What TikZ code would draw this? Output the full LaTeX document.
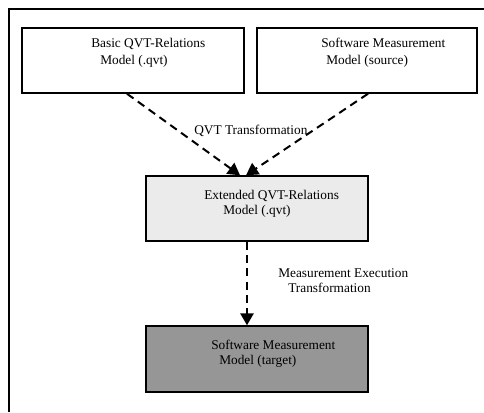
\documentclass[tikz,border=0pt]{standalone}
\usepackage{fontspec}
\setmainfont{Liberation Serif}
\usetikzlibrary{arrows.meta}
\definecolor{lightbox}{HTML}{EBEBEB}
\definecolor{darkbox}{HTML}{969696}
\begin{document}
\begin{tikzpicture}[x=0.75pt,y=-0.75pt,
  boxst/.style={draw=black,line width=1.125pt,rectangle,inner sep=0pt,minimum height=48.75pt},
  lbl/.style={font=\fontsize{10}{12}\selectfont,inner sep=0pt,anchor=base west},
  dasharrow/.style={dashed,dash pattern=on 6pt off 4pt,line width=1.5pt,-{Triangle[length=9pt,width=10pt]}}]
\useasboundingbox (0,0) rectangle (484,412);
\draw[line width=1.6pt] (9,412) -- (9,9) -- (484,9);
% boxes
\node[boxst,minimum width=166.5pt] (b1) at (133,60.5) {};
\node[boxst,minimum width=165pt] (b2) at (367,60.5) {};
\node[boxst,fill=lightbox,minimum width=166.5pt] (b3) at (257,208.5) {};
\node[boxst,fill=darkbox,minimum width=166.5pt,minimum height=49.5pt] (b4) at (257,359) {};
\coordinate (b1s) at ([xshift=-4.5pt]b1.south);
\coordinate (b2s) at ([xshift=0.75pt]b2.south);
\coordinate (b3nl) at ([xshift=-12.75pt]b3.north);
\coordinate (b3nr) at ([xshift=-8.25pt]b3.north);
\coordinate (b3s) at ([xshift=-7.5pt]b3.south);
\coordinate (b4n) at ([xshift=-7.5pt]b4.north);
% texts
\node[lbl] (t1a) at (91,47) {Basic QVT-Relations};
\node[lbl] (t1b) at (100,64) {Model (.qvt)};
\node[lbl] (t2a) at (321,47) {Software Measurement};
\node[lbl] (t2b) at (326,64) {Model (source)};
\node[lbl] (tq) at (194,134) {QVT Transformation};
\node[lbl] (t3a) at (204,199) {Extended QVT-Relations};
\node[lbl] (t3b) at (223,214) {Model (.qvt)};
\node[lbl] (tma) at (278,277) {Measurement Execution};
\node[lbl] (tmb) at (288,292) {Transformation};
\node[lbl] (t4a) at (211,349) {Software Measurement};
\node[lbl] (t4b) at (219,364) {Model (target)};
% arrows
\draw[dasharrow] (b1s) -- (b3nl);
\draw[dasharrow] (b2s) -- (b3nr);
\draw[dasharrow] (b3s) -- (b4n);
\end{tikzpicture}
\end{document}
